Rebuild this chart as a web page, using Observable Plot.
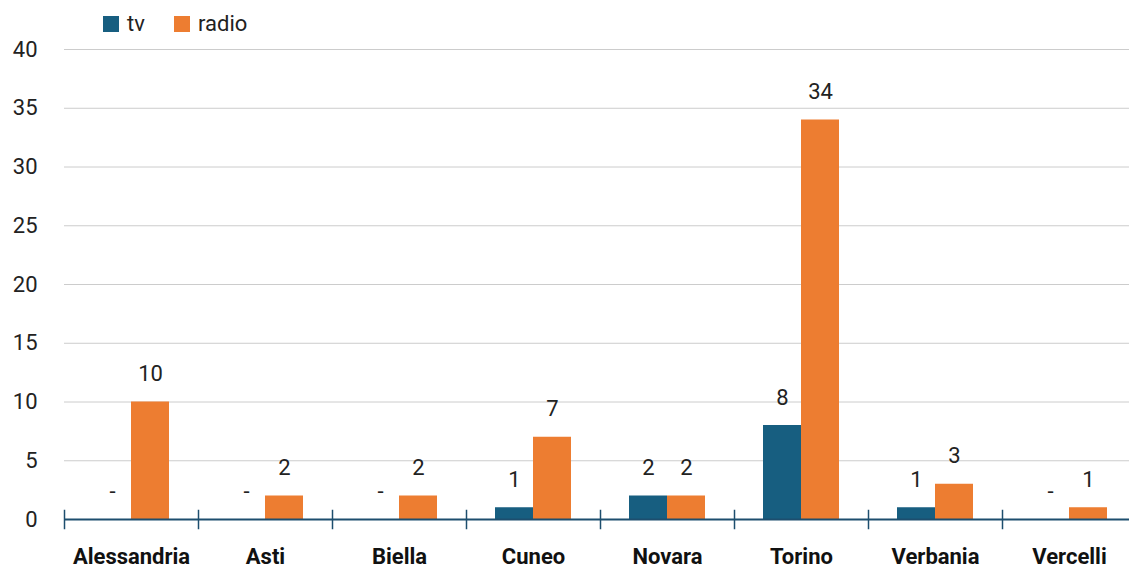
<!DOCTYPE html>
<html>
<head>
<meta charset="utf-8">
<script src="https://cdn.jsdelivr.net/npm/d3@7"></script>
<script src="https://cdn.jsdelivr.net/npm/@observablehq/plot@0.6"></script>
<style>
  body { margin: 0; background: #fff; font-family: Roboto, sans-serif; }
  #legend { height: 40px; position: relative; font-size: 22px; color: #222; }
  .item { position: absolute; top: 11px; display: flex; align-items: center; }
  .sw { width: 16px; height: 16px; margin-right: 8px; }
</style>
</head>
<body>
<div id="legend"></div>
<div id="chart"></div>
<script>
const cities = ["Alessandria", "Asti", "Biella", "Cuneo", "Novara", "Torino", "Verbania", "Vercelli"];
const seriesNames = ["tv", "radio"];
const tvValues = [0, 0, 0, 1, 2, 8, 1, 0];
const radioValues = [10, 2, 2, 7, 2, 34, 3, 1];
const yTicks = [0, 5, 10, 15, 20, 25, 30, 35, 40];
const colors = ["#175e80", "#ed7d31"];

const data = [];
cities.forEach((c, i) => {
  data.push({city: c, series: "tv", value: tvValues[i]});
  data.push({city: c, series: "radio", value: radioValues[i]});
});

// legend
const legend = document.getElementById("legend");
const lx = [103, 174];
seriesNames.forEach((s, i) => {
  const el = document.createElement("div");
  el.className = "item";
  el.style.left = lx[i] + "px";
  el.innerHTML = `<div class="sw" style="background:${colors[i]}"></div><span>${s}</span>`;
  legend.appendChild(el);
});

const chart = Plot.plot({
  width: 1129,
  height: 529,
  marginLeft: 63,
  marginRight: -8,
  marginTop: 9,
  marginBottom: 50,
  style: {fontFamily: "Roboto, sans-serif", fontSize: "22px", color: "#222", overflow: "visible"},
  fx: {domain: cities, padding: 0, label: null},
  x: {domain: seriesNames, paddingInner: 0, paddingOuter: 0.76, axis: null},
  y: {domain: [0, 40], ticks: yTicks, label: null},
  color: {domain: seriesNames, range: colors},
  marks: [
    Plot.gridY(yTicks, {stroke: "#cccccc", strokeOpacity: 1, strokeWidth: 1}),
    Plot.axisY(yTicks, {tickSize: 0, tickPadding: 27, fontSize: 22, fill: "#222"}),
    Plot.barY(data, {fx: "city", x: "series", y: "value", fill: "series"}),
    Plot.text(data, {fx: "city", x: "series", y: "value", text: d => d.value === 0 ? "-" : String(d.value), dy: -28, fontSize: 22, fill: "#222"}),
    Plot.ruleY([0], {stroke: "#1d4e6e", strokeWidth: 2}),
    Plot.frame({anchor: "left", stroke: "#1d4e6e", strokeWidth: 1.5, insetTop: 461, insetBottom: -9}),
    Plot.axisFx({anchor: "bottom", tickSize: 0, tickPadding: 29, fontSize: 22, fontWeight: "bold", fill: "#111", label: null})
  ]
});
document.getElementById("chart").appendChild(chart);
</script>
</body>
</html>
